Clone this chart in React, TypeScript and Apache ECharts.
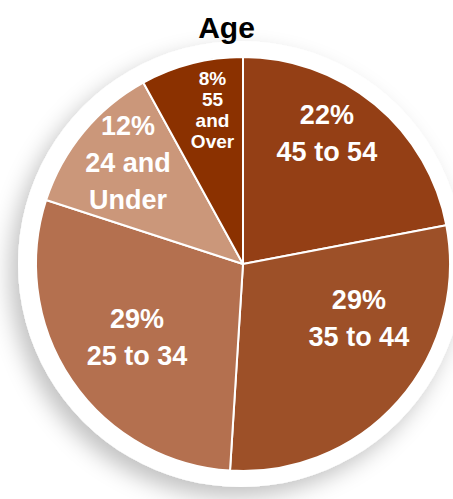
import React, { useEffect, useRef } from "react";
import * as echarts from "echarts";

const categories = ["45 to 54", "35 to 44", "25 to 34", "24 and\nUnder", "55\nand\nOver"];
const values = [22, 29, 29, 12, 8];
const colors = ["#943f15", "#9d5028", "#b4704f", "#cb977a", "#8b3100"];
const labelOffsets = [[16, -48], [36, -16], [-18, 14], [-33, -33], [-4, -51]];
const labelSizes = [27, 27, 27, 27, 19];
const labelLineHeights = [37, 37, 37, 37, 21];

const FONT = "'Liberation Sans Narrow', 'Arial Narrow', 'Liberation Sans', sans-serif";

export default function App() {
  const ref = useRef<HTMLDivElement>(null);
  useEffect(() => {
    document.body.style.margin = "0";
    const chart = echarts.init(ref.current!, null, { renderer: "svg" });
    chart.setOption({
      animation: false,
      title: {
        text: "Age",
        left: "center",
        top: 7,
        textStyle: { fontFamily: FONT, fontWeight: "bold", fontSize: 30, color: "#000" },
      },
      series: [
        {
          type: "pie",
          silent: true,
          center: [241, 264],
          radius: 223,
          label: { show: false },
          labelLine: { show: false },
          itemStyle: {
            color: "#ffffff",
            shadowBlur: 22,
            shadowColor: "rgba(0,0,0,0.24)",
            shadowOffsetX: -8,
            shadowOffsetY: 10,
          },
          data: [{ value: 1, name: "bg" }],
        },
        {
          type: "pie",
          center: [243, 264],
          radius: 207,
          startAngle: 90,
          clockwise: true,
          avoidLabelOverlap: false,
          labelLine: { show: false },
          itemStyle: { borderColor: "#ffffff", borderWidth: 2 },
          data: categories.map((name, i) => ({
            name,
            value: values[i],
            itemStyle: { color: colors[i] },
            label: {
              show: true,
              position: "inside",
              formatter: "{c}%\n{b}",
              color: "#ffffff",
              fontFamily: FONT,
              fontWeight: "bold",
              fontSize: labelSizes[i],
              lineHeight: labelLineHeights[i],
              align: "center",
              offset: labelOffsets[i],
            },
          })),
        },
      ],
    });
    return () => chart.dispose();
  }, []);
  return <div ref={ref} style={{ width: 453, height: 499 }} />;
}
